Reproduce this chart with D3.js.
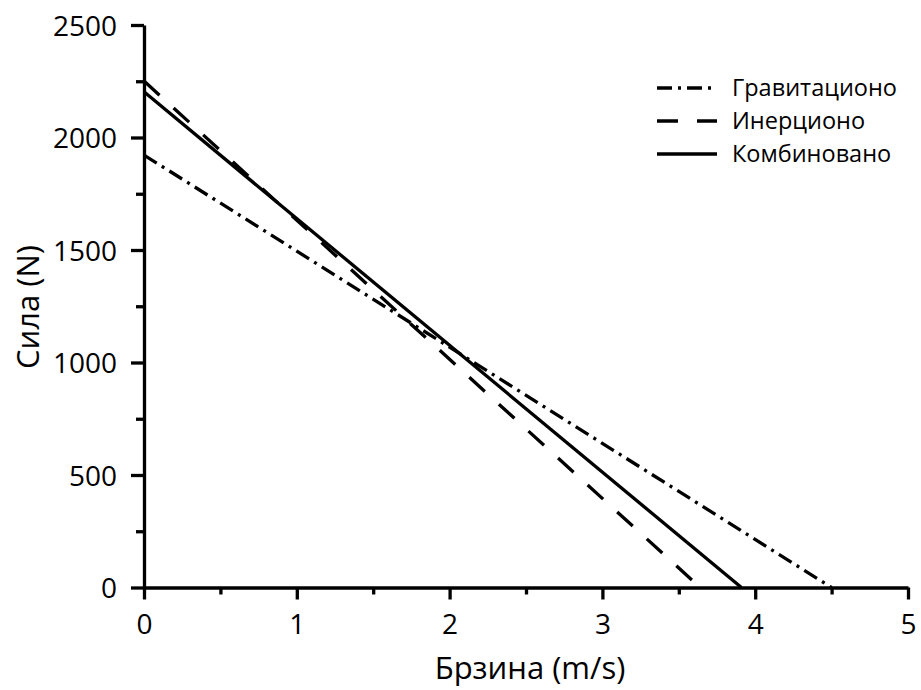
<!DOCTYPE html>
<html>
<head>
<meta charset="utf-8">
<script src="https://cdn.jsdelivr.net/npm/d3@7"></script>
<style>
  body { margin: 0; background: #fff; }
  svg { display: block; font-family: 'Open Sans', sans-serif; }
</style>
</head>
<body>
<div id="chart"></div>
<script>
// Data: straight force/speed lines (start and end points).
const seriesNames = ['Гравитационо', 'Инерционо', 'Комбиновано'];
const speeds = {
  'Гравитационо': [0, 4.5],
  'Инерционо': [0, 3.64],
  'Комбиновано': [0, 3.91]
};
const forces = {
  'Гравитационо': [1922, 0],
  'Инерционо': [2251, 0],
  'Комбиновано': [2203, 0]
};
const xTicks = [0, 1, 2, 3, 4, 5];
const yTicks = [0, 500, 1000, 1500, 2000, 2500];
const xLabel = 'Брзина (m/s)';
const yLabel = 'Сила (N)';

const attrs = {
  width: 921,
  height: 690,
  marginTop: 25,
  marginLeft: 144,
  marginRight: 13,
  marginBottom: 102.5,
  lineWidth: 3.3,
  dashes: {
    'Гравитационо': '15,6,3,6',
    'Инерционо': '21,19',
    'Комбиновано': null
  }
};

const chartWidth = attrs.width - attrs.marginLeft - attrs.marginRight;
const chartHeight = attrs.height - attrs.marginTop - attrs.marginBottom;

const svg = d3.select('#chart').append('svg')
  .attr('width', attrs.width)
  .attr('height', attrs.height);

const chart = svg.append('g')
  .attr('transform', 'translate(' + attrs.marginLeft + ',' + attrs.marginTop + ')');

const xScale = d3.scaleLinear().domain([0, 5]).range([0, chartWidth]);
const yScale = d3.scaleLinear().domain([0, 2500]).range([chartHeight, 0]);

// Minor ticks (halfway between majors).
const xMinor = d3.range(0.5, 5, 1);
const yMinor = d3.range(250, 2500, 500);

chart.append('g')
  .attr('class', 'x-minor')
  .attr('transform', 'translate(0,' + chartHeight + ')')
  .call(d3.axisBottom(xScale).tickValues(xMinor).tickSize(7).tickFormat(''))
  .call(g => g.select('.domain').remove());

chart.append('g')
  .attr('class', 'y-minor')
  .call(d3.axisLeft(yScale).tickValues(yMinor).tickSize(8).tickFormat(''))
  .call(g => g.select('.domain').remove());

const xAxis = chart.append('g')
  .attr('class', 'x-axis')
  .attr('transform', 'translate(0,' + chartHeight + ')')
  .call(d3.axisBottom(xScale).tickValues(xTicks).tickSize(12).tickSizeOuter(0).tickPadding(15)
    .tickFormat(d3.format('d')));

const yAxis = chart.append('g')
  .attr('class', 'y-axis')
  .call(d3.axisLeft(yScale).tickValues(yTicks).tickSize(13).tickSizeOuter(0).tickPadding(14)
    .tickFormat(d3.format('d')));

chart.selectAll('.tick line').attr('stroke', '#000').attr('stroke-width', attrs.lineWidth);
chart.selectAll('.domain').attr('stroke', '#000').attr('stroke-width', attrs.lineWidth);
chart.selectAll('.tick text')
  .attr('fill', '#000')
  .style('font-size', '28px')
  .style('font-family', "'Open Sans', sans-serif");
yAxis.selectAll('.tick text').attr('dy', '0.36em');

// Lines.
const line = d3.line()
  .x(d => xScale(d.x))
  .y(d => yScale(d.y));

seriesNames.forEach(name => {
  const pts = speeds[name].map((x, i) => ({ x: x, y: forces[name][i] }));
  chart.append('path')
    .datum(pts)
    .attr('d', line)
    .attr('fill', 'none')
    .attr('stroke', '#000')
    .attr('stroke-width', attrs.lineWidth)
    .attr('stroke-dasharray', attrs.dashes[name]);
});

// Axis titles.
svg.append('text')
  .attr('x', attrs.marginLeft + chartWidth / 2 + 4)
  .attr('y', 679)
  .attr('text-anchor', 'middle')
  .style('font-size', '31px')
  .text(xLabel);

svg.append('text')
  .attr('transform', 'translate(39,' + 307 + ') rotate(-90)')
  .attr('text-anchor', 'middle')
  .style('font-size', '31px')
  .text(yLabel);

// Legend.
const legend = svg.append('g').attr('transform', 'translate(657,88)');
seriesNames.forEach((name, i) => {
  const row = legend.append('g').attr('transform', 'translate(0,' + i * 33 + ')');
  row.append('line')
    .attr('x1', 0).attr('x2', 60)
    .attr('stroke', '#000')
    .attr('stroke-width', attrs.lineWidth)
    .attr('stroke-dasharray', attrs.dashes[name]);
  row.append('text')
    .attr('x', 75)
    .attr('dy', '0.35em')
    .style('font-size', '23.5px')
    .text(name);
});
</script>
</body>
</html>
